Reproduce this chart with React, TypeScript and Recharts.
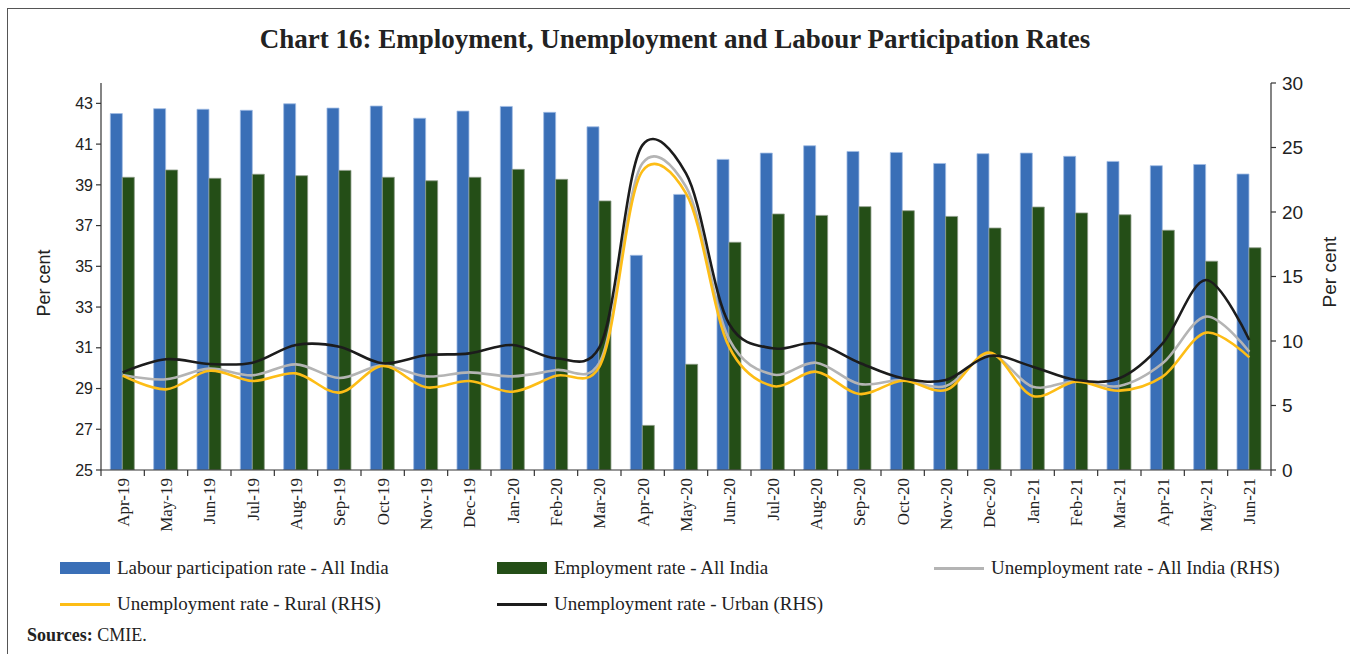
import React from "react";
import { Bar, ComposedChart, Line, XAxis, YAxis } from "recharts";

const months = [
  "Apr-19", "May-19", "Jun-19", "Jul-19", "Aug-19", "Sep-19", "Oct-19", "Nov-19", "Dec-19",
  "Jan-20", "Feb-20", "Mar-20", "Apr-20", "May-20", "Jun-20", "Jul-20", "Aug-20", "Sep-20",
  "Oct-20", "Nov-20", "Dec-20", "Jan-21", "Feb-21", "Mar-21", "Apr-21", "May-21", "Jun-21",
];

const labourParticipation = [
  42.5, 42.74, 42.71, 42.66, 42.98, 42.77, 42.87, 42.27, 42.62, 42.85, 42.56, 41.85, 35.54,
  38.53, 40.25, 40.56, 40.92, 40.64, 40.59, 40.05, 40.53, 40.56, 40.4, 40.15, 39.94, 40.0, 39.53,
];

const employment = [
  39.37, 39.73, 39.32, 39.52, 39.45, 39.71, 39.37, 39.2, 39.37, 39.76, 39.27, 38.21, 27.19,
  30.19, 36.18, 37.57, 37.5, 37.93, 37.73, 37.45, 36.88, 37.91, 37.62, 37.53, 36.77, 35.25, 35.91,
];

const unempAllIndia = [
  7.36, 7.03, 7.86, 7.34, 8.19, 7.13, 8.11, 7.26, 7.57, 7.26, 7.75, 8.3, 23.8,
  21.96, 10.1, 7.4, 8.32, 6.67, 6.98, 6.51, 8.99, 6.46, 6.9, 6.51, 8.27, 11.89, 9.17,
];

const unempRural = [
  7.31, 6.25, 7.7, 6.9, 7.49, 6.0, 8.06, 6.41, 6.9, 6.07, 7.3, 8.0, 23.2,
  21.45, 9.5, 6.51, 7.62, 5.89, 6.92, 6.2, 9.1, 5.74, 6.85, 6.15, 7.24, 10.65, 8.73,
];

const unempUrban = [
  7.57, 8.58, 8.22, 8.32, 9.69, 9.56, 8.27, 8.89, 9.04, 9.69, 8.66, 9.5, 25.2,
  23.0, 11.3, 9.43, 9.82, 8.32, 7.11, 6.98, 8.84, 8.01, 6.98, 7.11, 9.82, 14.73, 10.08,
];

const leftTicks = [25, 27, 29, 31, 33, 35, 37, 39, 41, 43];
const rightTicks = [0, 5, 10, 15, 20, 25, 30];

const data = months.map((m, i) => ({
  month: m,
  lpr: labourParticipation[i],
  er: employment[i],
  all: unempAllIndia[i],
  rural: unempRural[i],
  urban: unempUrban[i],
}));

const SERIF = "'Liberation Serif', 'DejaVu Serif', serif";
const SANS = "'Liberation Sans', Arial, sans-serif";
const AXIS = "#333";

const BLUE = "#3a6fb7";
const GREEN = "#244e17";
const GREY = "#b4b4b4";
const YELLOW = "#fdbd16";
const BLACK = "#1c1c1c";

const PLOT_W = 1170;
const HALF = PLOT_W / months.length / 2;

// smoothed line like the spreadsheet one: Catmull-Rom through the points,
// parameterised between uniform and centripetal
const smoothCurve = (context: any) => {
  let pts: [number, number][] = [];
  const alpha = 0.2;
  const dist = (p: [number, number], q: [number, number]) =>
    Math.hypot(q[0] - p[0], q[1] - p[1]);
  return {
    areaStart() {},
    areaEnd() {},
    lineStart() {
      pts = [];
    },
    point(x: number, y: number) {
      pts.push([+x, +y]);
    },
    lineEnd() {
      const n = pts.length;
      if (!n) return;
      context.moveTo(pts[0][0], pts[0][1]);
      for (let i = 0; i < n - 1; i++) {
        const p0 = i > 0 ? pts[i - 1] : null;
        const p1 = pts[i];
        const p2 = pts[i + 1];
        const p3 = i + 2 < n ? pts[i + 2] : null;
        const l01a = p0 ? Math.pow(dist(p0, p1), alpha) : 0;
        const l12a = Math.pow(dist(p1, p2), alpha);
        const l23a = p3 ? Math.pow(dist(p2, p3), alpha) : 0;
        const l01 = l01a * l01a;
        const l12 = l12a * l12a;
        const l23 = l23a * l23a;
        let c1 = [p1[0], p1[1]];
        let c2 = [p2[0], p2[1]];
        if (p0 && l01a > 1e-6) {
          const a = 2 * l01 + 3 * l01a * l12a + l12;
          const m = 3 * l01a * (l01a + l12a);
          c1 = [
            (p1[0] * a - p0[0] * l12 + p2[0] * l01) / m,
            (p1[1] * a - p0[1] * l12 + p2[1] * l01) / m,
          ];
        }
        if (p3 && l23a > 1e-6) {
          const b = 2 * l23 + 3 * l23a * l12a + l12;
          const m = 3 * l23a * (l23a + l12a);
          c2 = [
            (p2[0] * b + p1[0] * l23 - p3[0] * l12) / m,
            (p2[1] * b + p1[1] * l23 - p3[1] * l12) / m,
          ];
        }
        context.bezierCurveTo(c1[0], c1[1], c2[0], c2[1], p2[0], p2[1]);
      }
    },
  };
};

const XTick = (props: any) => {
  const { x, y, payload, index } = props;
  return (
    <g>
      <line x1={x - HALF} x2={x - HALF} y1={y} y2={y + 6} stroke={AXIS} strokeWidth={1.2} />
      {index === months.length - 1 && (
        <line x1={x + HALF} x2={x + HALF} y1={y} y2={y + 6} stroke={AXIS} strokeWidth={1.2} />
      )}
      <text
        transform={`translate(${x},${y + 8}) rotate(-90)`}
        textAnchor="end"
        dy="0.35em"
        fontFamily={SERIF}
        fontSize={17}
        fill="#222"
      >
        {payload.value}
      </text>
    </g>
  );
};

const legendRow1 = [
  { label: "Labour participation rate - All India", color: BLUE, kind: "bar", left: 60 },
  { label: "Employment rate - All India", color: GREEN, kind: "bar", left: 497 },
  { label: "Unemployment rate - All India (RHS)", color: GREY, kind: "line", left: 934 },
];
const legendRow2 = [
  { label: "Unemployment rate - Rural (RHS)", color: YELLOW, kind: "line", left: 60 },
  { label: "Unemployment rate - Urban (RHS)", color: BLACK, kind: "line", left: 497 },
];

function LegendItem({ item, top }: { item: any; top: number }) {
  return (
    <div
      style={{
        position: "absolute",
        left: item.left,
        top,
        display: "flex",
        alignItems: "center",
        fontFamily: SERIF,
        fontSize: 19,
        color: "#222",
        whiteSpace: "nowrap",
      }}
    >
      <span
        style={{
          display: "inline-block",
          width: 50,
          height: item.kind === "bar" ? 12 : 3,
          background: item.color,
          marginRight: 7,
        }}
      />
      {item.label}
    </div>
  );
}

export default function App() {
  return (
    <div
      style={{
        position: "absolute",
        left: 0,
        top: 0,
        width: 1350,
        height: 654,
        background: "#fff",
        overflow: "hidden",
      }}
    >
      <div
        style={{
          position: "absolute",
          left: 7,
          top: 8,
          width: 1350,
          height: 660,
          borderTop: "1.5px solid #555",
          borderLeft: "1.5px solid #555",
        }}
      />
      <div
        style={{
          position: "absolute",
          left: 0,
          width: 1350,
          top: 24,
          textAlign: "center",
          fontFamily: SERIF,
          fontWeight: "bold",
          fontSize: 27,
          color: "#222",
        }}
      >
        Chart 16: Employment, Unemployment and Labour Participation Rates
      </div>

      <ComposedChart
        width={1350}
        height={654}
        data={data}
        margin={{ top: 83, right: 19, bottom: 104, left: 41 }}
        barCategoryGap="21.5%"
        barGap={0}
      >
        <XAxis
          dataKey="month"
          interval={0}
          tickLine={false}
          tickSize={0}
          tickMargin={0}
          height={80}
          axisLine={{ stroke: AXIS, strokeWidth: 1.2 }}
          tick={<XTick />}
        />
        <YAxis
          yAxisId="left"
          orientation="left"
          width={60}
          domain={[25, 44]}
          ticks={leftTicks}
          interval={0}
          allowDataOverflow
          tickSize={5}
          tickMargin={3}
          axisLine={{ stroke: AXIS, strokeWidth: 1.2 }}
          tickLine={{ stroke: AXIS, strokeWidth: 1.2 }}
          tick={{ fill: "#222", fontSize: 16, fontFamily: SANS }}
        />
        <YAxis
          yAxisId="right"
          orientation="right"
          width={60}
          domain={[0, 30]}
          ticks={rightTicks}
          interval={0}
          allowDataOverflow
          tickSize={5}
          tickMargin={6}
          axisLine={{ stroke: AXIS, strokeWidth: 1.2 }}
          tickLine={{ stroke: AXIS, strokeWidth: 1.2 }}
          tick={{ fill: "#222", fontSize: 19, fontFamily: SANS }}
        />
        <Bar
          yAxisId="left"
          dataKey="lpr"
          fill={BLUE}
          stroke="#9fbbe3"
          strokeWidth={0.8}
          isAnimationActive={false}
        />
        <Bar
          yAxisId="left"
          dataKey="er"
          fill={GREEN}
          stroke="#8d9c88"
          strokeWidth={0.8}
          isAnimationActive={false}
        />
        <Line
          yAxisId="right"
          type={smoothCurve as any}
          dataKey="all"
          stroke={GREY}
          strokeWidth={2.6}
          dot={false}
          isAnimationActive={false}
        />
        <Line
          yAxisId="right"
          type={smoothCurve as any}
          dataKey="rural"
          stroke={YELLOW}
          strokeWidth={2.6}
          dot={false}
          isAnimationActive={false}
        />
        <Line
          yAxisId="right"
          type={smoothCurve as any}
          dataKey="urban"
          stroke={BLACK}
          strokeWidth={2.6}
          dot={false}
          isAnimationActive={false}
        />
      </ComposedChart>

      <div
        style={{
          position: "absolute",
          left: 44,
          top: 283,
          transform: "translate(-50%, -50%) rotate(-90deg)",
          fontFamily: SANS,
          fontSize: 18,
          color: "#222",
          whiteSpace: "nowrap",
        }}
      >
        Per cent
      </div>
      <div
        style={{
          position: "absolute",
          left: 1330,
          top: 272,
          transform: "translate(-50%, -50%) rotate(-90deg)",
          fontFamily: SANS,
          fontSize: 19,
          color: "#222",
          whiteSpace: "nowrap",
        }}
      >
        Per cent
      </div>

      {legendRow1.map((it) => (
        <LegendItem key={it.label} item={it} top={557} />
      ))}
      {legendRow2.map((it) => (
        <LegendItem key={it.label} item={it} top={593} />
      ))}

      <div
        style={{
          position: "absolute",
          left: 27,
          top: 625,
          fontFamily: SERIF,
          fontSize: 18,
          color: "#222",
        }}
      >
        <b>Sources:</b> CMIE.
      </div>
    </div>
  );
}
